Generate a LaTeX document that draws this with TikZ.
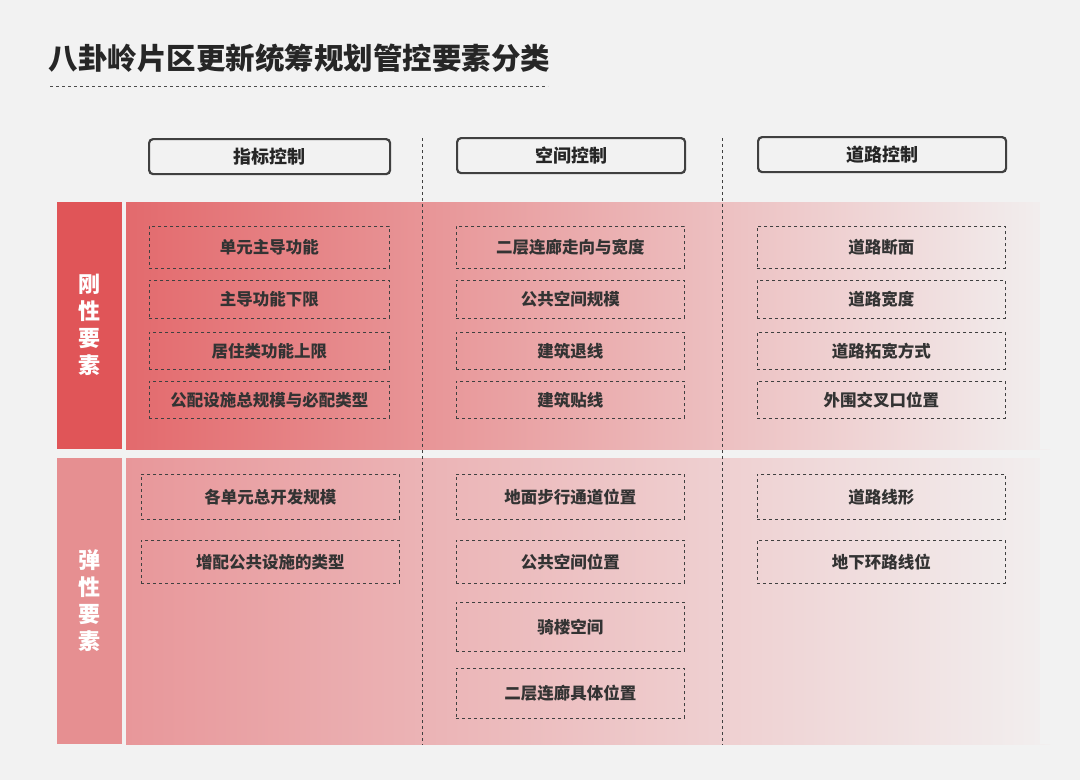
\documentclass[tikz,border=0pt]{standalone}
\usepackage{fontspec}
\setmainfont{Noto Sans CJK SC}
\begin{document}
\begin{tikzpicture}[x=1pt,y=-1pt,
  item/.style={draw=black!75,dashed,line width=0.8pt,font=\bfseries\fontsize{16.5}{18}\selectfont,text=black!80,inner sep=0pt,anchor=north west},
  head/.style={draw=black!75,line width=2.2pt,rounded corners=4pt,font=\bfseries\fontsize{18}{20}\selectfont,text=black!85,inner sep=0pt,anchor=north west},
  lab/.style={font=\bfseries\fontsize{22}{27}\selectfont,text=white,align=center}]
\definecolor{bg}{HTML}{F2F2F2}
\definecolor{rigA}{HTML}{E05558}
\definecolor{rigL}{HTML}{E36A6D}
\definecolor{rigM}{HTML}{EBA2A4}
\definecolor{rigR}{HTML}{F2EFEF}
\definecolor{elaA}{HTML}{E68F91}
\definecolor{elaL}{HTML}{E8979A}
\definecolor{elaM}{HTML}{EDBDBF}
\definecolor{elaR}{HTML}{F2EFEF}
\fill[bg] (0,0) rectangle (1080,780);
\useasboundingbox (0,0) rectangle (1080,780);
\node[anchor=west,font=\bfseries\fontsize{29.5}{31}\selectfont,text=black!85] (title) at (45,58) {八卦岭片区更新统筹规划管控要素分类};
\coordinate (t1) at (50,86); \coordinate (t2) at (548,86);
\draw[dashed,black!70,line width=0.8pt] (t1)--(t2);
% bands
\shade[left color=rigL,middle color=rigM,right color=rigR] (126,202) rectangle (1050,449);
\fill[bg] (1040,202) rectangle (1080,449);
\shade[left color=elaL,middle color=elaM,right color=elaR] (126,458) rectangle (1050,744);
\fill[bg] (1040,458) rectangle (1080,744);
\fill[rigA] (57,202) rectangle (122,449);
\fill[elaA] (57,458) rectangle (122,744);
\node[lab] (rl) at (89.5,325) {刚\\性\\要\\素};
\node[lab] (el) at (89.5,601) {弹\\性\\要\\素};
% dividers
\coordinate (d1a) at (422,138); \coordinate (d1b) at (422,745);
\coordinate (d2a) at (722,138); \coordinate (d2b) at (722,745);
\draw[dashed,black!75,line width=0.9pt] (d1a)--(d1b) (d2a)--(d2b);
% headers
\node[head,minimum width=241pt,minimum height=35pt] (h1) at (148,138) {指标控制};
\node[head,minimum width=228pt,minimum height=35pt] (h2) at (456,137) {空间控制};
\node[head,minimum width=248pt,minimum height=35pt] (h3) at (757,136) {道路控制};
% rigid
\foreach \n/\y/\h/\a/\b/\c in {1/226/42/单元主导功能/二层连廊走向与宽度/道路断面,
  2/280/38/主导功能下限/公共空间规模/道路宽度,
  3/332/37/居住类功能上限/建筑退线/道路拓宽方式,
  4/381/37/公配设施总规模与必配类型/建筑贴线/外围交叉口位置}{
  \node[item,minimum width=240pt,minimum height=\h pt] (ra\n) at (149,\y) {\a};
  \node[item,minimum width=228pt,minimum height=\h pt] (rb\n) at (456,\y) {\b};
  \node[item,minimum width=248pt,minimum height=\h pt] (rc\n) at (757,\y) {\c};
}
% elastic
\node[item,minimum width=258pt,minimum height=45pt] (ea1) at (141,474) {各单元总开发规模};
\node[item,minimum width=258pt,minimum height=43pt] (ea2) at (141,540) {增配公共设施的类型};
\node[item,minimum width=228pt,minimum height=45pt] (eb1) at (456,474) {地面步行通道位置};
\node[item,minimum width=228pt,minimum height=43pt] (eb2) at (456,540) {公共空间位置};
\node[item,minimum width=228pt,minimum height=49pt] (eb3) at (456,602) {骑楼空间};
\node[item,minimum width=228pt,minimum height=50pt] (eb4) at (456,668) {二层连廊具体位置};
\node[item,minimum width=248pt,minimum height=45pt] (ec1) at (757,474) {道路线形};
\node[item,minimum width=248pt,minimum height=43pt] (ec2) at (757,540) {地下环路线位};
\end{tikzpicture}
\end{document}
